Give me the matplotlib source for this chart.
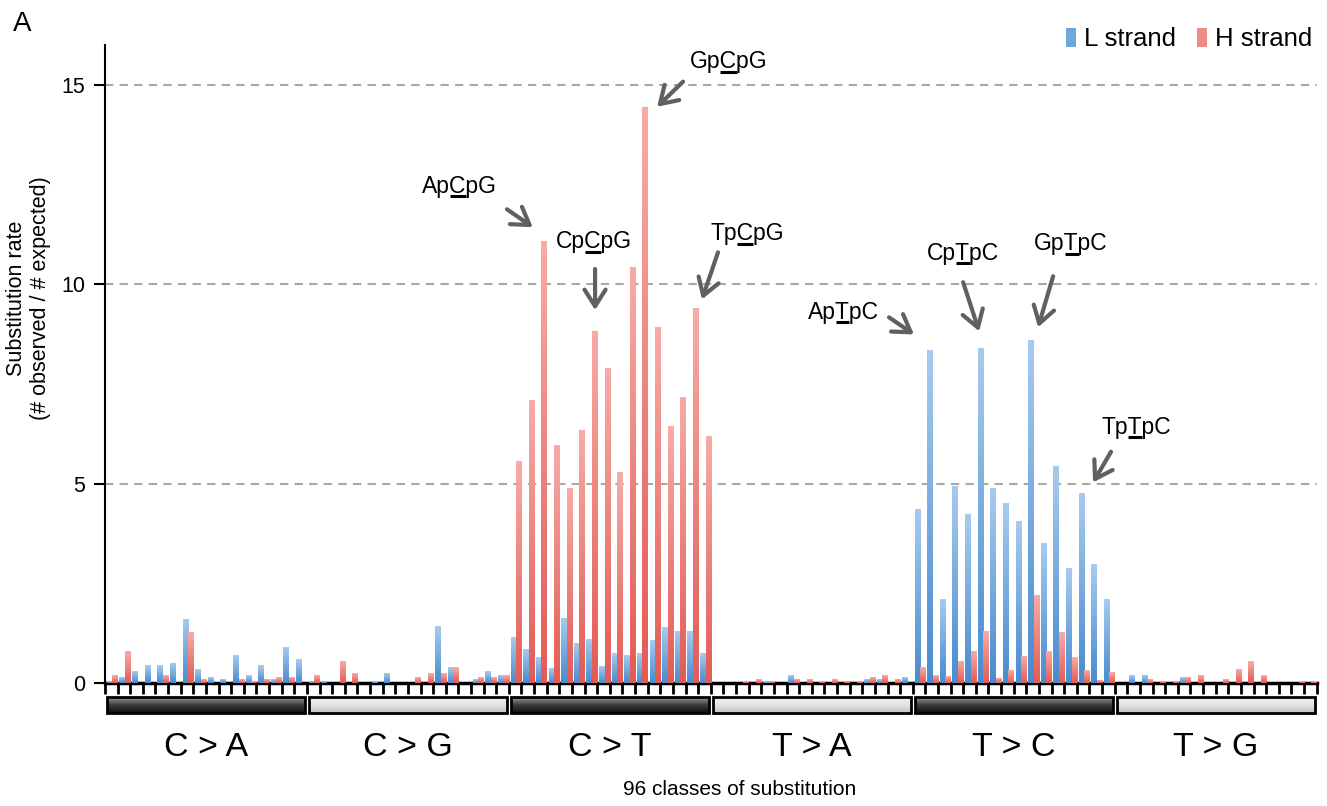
import numpy as np
import matplotlib
matplotlib.use("Agg")
import matplotlib.pyplot as plt
from matplotlib.colors import LinearSegmentedColormap
from matplotlib.patches import Rectangle, Patch
from matplotlib.lines import Line2D

plt.rcParams['font.family'] = ['Liberation Sans', 'DejaVu Sans']

groups = ["C > A", "C > G", "C > T", "T > A", "T > C", "T > G"]

# substitution rate per class, 16 trinucleotide contexts per group
L_CA = [0.05, 0.13, 0.30, 0.43, 0.45, 0.50, 1.58, 0.33, 0.15, 0.10, 0.68, 0.18, 0.43, 0.08, 0.90, 0.58]
H_CA = [0.18, 0.78, 0.00, 0.00, 0.18, 0.00, 1.26, 0.08, 0.00, 0.00, 0.10, 0.05, 0.08, 0.13, 0.13, 0.00]
L_CG = [0.05, 0.05, 0.00, 0.00, 0.00, 0.03, 0.23, 0.00, 0.00, 0.00, 1.41, 0.38, 0.00, 0.08, 0.28, 0.20]
H_CG = [0.18, 0.00, 0.53, 0.23, 0.00, 0.00, 0.00, 0.00, 0.13, 0.23, 0.23, 0.40, 0.00, 0.13, 0.13, 0.20]
L_CT = [1.13, 0.84, 0.65, 0.36, 1.63, 0.98, 1.10, 0.42, 0.75, 0.70, 0.73, 1.06, 1.38, 1.28, 1.28, 0.75]
H_CT = [5.55, 7.09, 11.07, 5.96, 4.88, 6.32, 8.81, 7.89, 5.27, 10.43, 14.44, 8.92, 6.43, 7.16, 9.38, 6.18]
L_TA = [0.00, 0.00, 0.00, 0.00, 0.05, 0.00, 0.18, 0.00, 0.00, 0.00, 0.00, 0.00, 0.08, 0.10, 0.00, 0.13]
H_TA = [0.00, 0.00, 0.03, 0.08, 0.05, 0.00, 0.08, 0.08, 0.03, 0.10, 0.05, 0.03, 0.13, 0.18, 0.10, 0.00]
L_TC = [4.34, 8.33, 2.10, 4.92, 4.22, 8.40, 4.87, 4.50, 4.04, 8.58, 3.51, 5.43, 2.86, 4.75, 2.96, 2.10]
H_TC = [0.39, 0.18, 0.16, 0.54, 0.79, 1.29, 0.11, 0.31, 0.66, 2.20, 0.79, 1.27, 0.64, 0.31, 0.06, 0.26]
L_TG = [0.00, 0.18, 0.20, 0.00, 0.00, 0.15, 0.00, 0.00, 0.00, 0.00, 0.00, 0.00, 0.00, 0.00, 0.00, 0.00]
H_TG = [0.00, 0.00, 0.08, 0.03, 0.05, 0.13, 0.18, 0.00, 0.08, 0.33, 0.55, 0.20, 0.00, 0.00, 0.03, 0.03]

L_strand = np.array(L_CA + L_CG + L_CT + L_TA + L_TC + L_TG)
H_strand = np.array(H_CA + H_CG + H_CT + H_TA + H_TC + H_TG)

# (label prefix, underlined base, suffix, text pos, arrow tail, arrow head) in data coords
motifs = [
    ("Gp", "C", "pG", (48.9, 15.58), (45.3, 15.08), (43.25, 14.45)),
    ("Ap", "C", "pG", (27.55, 12.46), (31.35, 11.88), (33.4, 11.43)),
    ("Cp", "C", "pG", (38.25, 11.06), (38.33, 10.38), (38.33, 9.35)),
    ("Tp", "C", "pG", (50.37, 11.26), (48.07, 10.80), (46.8, 9.62)),
    ("Ap", "T", "pC", (57.98, 9.30), (61.62, 9.17), (63.6, 8.74)),
    ("Cp", "T", "pC", (67.49, 10.78), (67.49, 10.05), (68.76, 8.82)),
    ("Gp", "T", "pC", (76.04, 11.01), (74.62, 10.20), (73.43, 8.92)),
    ("Tp", "T", "pC", (81.2, 6.41), (79.21, 5.80), (77.79, 5.03)),
]

blue_cm = LinearSegmentedColormap.from_list("b", ["#4a8bcf", "#a6cbee"])
red_cm = LinearSegmentedColormap.from_list("r", ["#e25c56", "#f7aba6"])
grad = np.linspace(0, 1, 64).reshape(-1, 1)

fig = plt.figure(figsize=(13.27, 8.06), dpi=100)
ax = fig.add_axes([0.0791, 0.1526, 0.9131, 0.7916])

x = np.arange(96)
bw = 0.45
bl = ax.bar(x - 0.13, L_strand, width=bw, color="#6fa8dc", zorder=3)
br = ax.bar(x + 0.31, H_strand, width=bw, color="#ef8a84", zorder=3)

# vertical gradient on each bar
for bars, cm in [(bl, blue_cm), (br, red_cm)]:
    for p in bars.patches:
        h = p.get_height()
        if h <= 0:
            continue
        ax.imshow(grad, extent=(p.get_x(), p.get_x() + p.get_width(), 0, h), cmap=cm,
                  origin="lower", aspect="auto", interpolation="bilinear", zorder=3.5)

ax.set_xlim(-0.5, 95.5)
ax.set_ylim(0, 16)
ax.set_yticks([0, 5, 10, 15])
ax.yaxis.grid(True, ls=(0, (4, 3)), color="#a8a8a8", lw=1.5)
ax.set_axisbelow(True)
ax.set_xticks(np.arange(-0.5, 96, 1))
ax.set_xticklabels([])
ax.tick_params(axis="x", length=8, width=2, direction="out", color="black")
ax.tick_params(axis="y", length=8, width=1.5, direction="out", labelsize=15.5, pad=6)
for s in ["top", "right"]:
    ax.spines[s].set_visible(False)
ax.spines["bottom"].set_linewidth(2.5)
ax.spines["left"].set_linewidth(1.5)

# motif annotations
texts = []
for pre, mid, post, tp, tail, head in motifs:
    t = ax.text(tp[0], tp[1], pre + mid + post, ha="center", va="center", fontsize=16.5, zorder=6)
    texts.append((t, pre, mid))
    ax.annotate("", xy=head, xytext=tail,
                arrowprops=dict(arrowstyle="->,head_length=0.6,head_width=0.38",
                                color="#606060", lw=3, mutation_scale=20, shrinkA=0, shrinkB=0),
                zorder=6)

# category boxes under the axis
bax = fig.add_axes([0.0791, 0.1129, 0.9131, 0.0248])
bax.set_xlim(-0.5, 95.5)
bax.set_ylim(0, 1)
bax.axis("off")
dark_cm = LinearSegmentedColormap.from_list("d", ["#111111", "#3c3c3c", "#9a9a9a"])
light_cm = LinearSegmentedColormap.from_list("l", ["#c4c4c4", "#e2e2e2", "#f2f2f2"])
for g, name in enumerate(groups):
    x0 = g * 16 - 0.5 + 0.15
    x1 = g * 16 + 15.5 - 0.15
    cm = dark_cm if g % 2 == 0 else light_cm
    bax.imshow(grad, extent=(x0, x1, 0.1, 0.9), cmap=cm, origin="lower", aspect="auto",
               interpolation="bilinear", zorder=1)
    bax.add_patch(Rectangle((x0, 0.1), x1 - x0, 0.8, fill=False, ec="black", lw=2, zorder=2))
    bax.text(g * 16 + 7.5, -1.65, name, ha="center", va="center", fontsize=24.5, clip_on=False)
bax.set_xlim(-0.5, 95.5)
bax.set_ylim(0, 1)

fig.text(0.557, 0.0199, "96 classes of substitution", ha="center", va="center", fontsize=15)
fig.text(0.0215, 0.63, "Substitution rate\n(# observed / # expected)", rotation=90,
         ha="center", va="center", fontsize=15.5, multialignment="center")
fig.text(0.0166, 0.97, "A", ha="center", va="center", fontsize=20)

handles = [Patch(facecolor="#6fa8dc"), Patch(facecolor="#ef8a84")]
fig.legend(handles, ["L strand", "H strand"], loc="upper right", bbox_to_anchor=(1.006, 0.995),
           frameon=False, fontsize=18.5, ncol=2, handlelength=0.4, handleheight=0.75,
           handletextpad=0.3, columnspacing=0.8)

# underline the mutated base
fig.canvas.draw()
rend = fig.canvas.get_renderer()
inv = fig.transFigure.inverted()
for t, pre, mid in texts:
    bb = t.get_window_extent(rend)
    fp = t.get_fontproperties()
    w_pre = rend.get_text_width_height_descent(pre, fp, False)[0] if pre else 0
    w_mid = rend.get_text_width_height_descent(pre + mid, fp, False)[0]
    d = rend.get_text_width_height_descent(t.get_text(), fp, False)[2]
    yb = bb.y0 + d - 3.5
    (fx0, fy), (fx1, _) = inv.transform([(bb.x0 + w_pre, yb), (bb.x0 + w_mid, yb)])
    fig.add_artist(Line2D([fx0, fx1], [fy, fy], color="black", lw=2.2, solid_capstyle="butt"))

fig.savefig("out.png", dpi=100)
